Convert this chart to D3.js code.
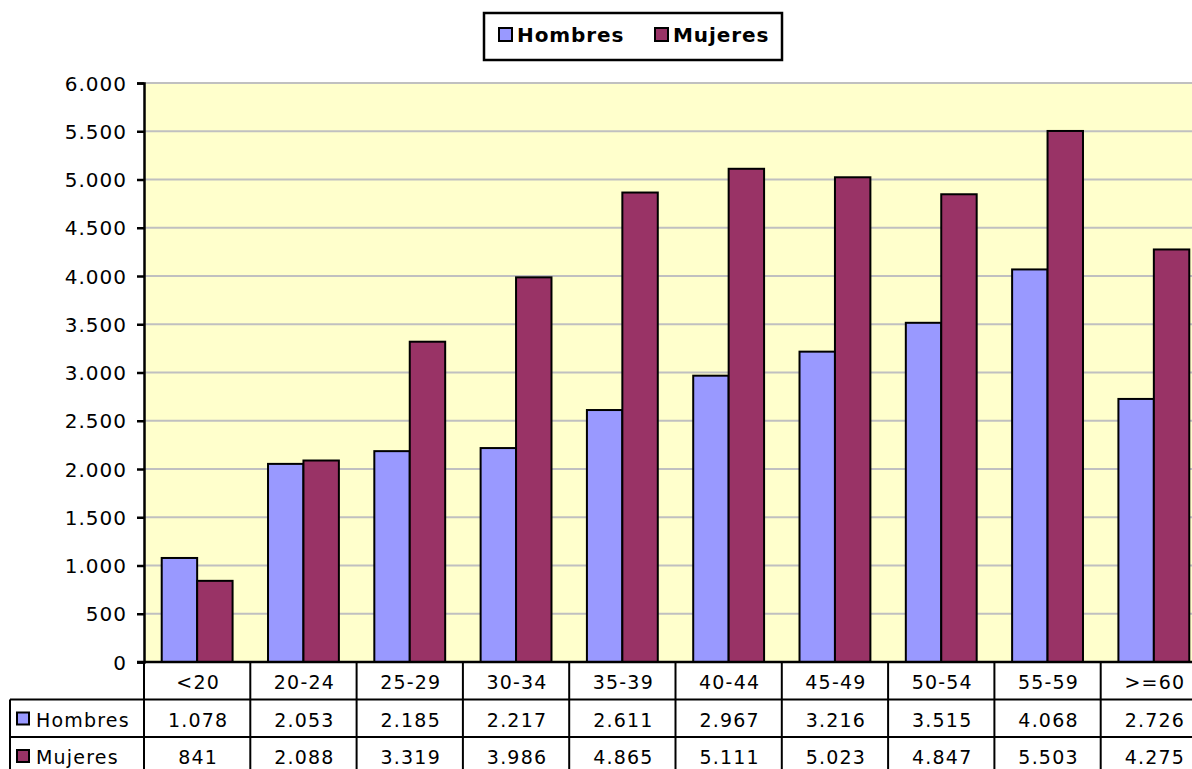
<!DOCTYPE html>
<html>
<head>
<meta charset="utf-8">
<script src="https://cdn.jsdelivr.net/npm/d3@7"></script>
<style>
  body { margin: 0; background: #fff; }
  svg text { font-family: "DejaVu Sans", Verdana, sans-serif; fill: #000; }
</style>
</head>
<body>
<div id="chart"></div>
<script>
var categories = ["<20", "20-24", "25-29", "30-34", "35-39", "40-44", "45-49", "50-54", "55-59", ">=60"];
var hombres = [1078, 2053, 2185, 2217, 2611, 2967, 3216, 3515, 4068, 2726];
var mujeres = [841, 2088, 3319, 3986, 4865, 5111, 5023, 4847, 5503, 4275];
var seriesNames = ["Hombres", "Mujeres"];
var seriesColors = ["#9999ff", "#993366"];
var yTicks = [0, 500, 1000, 1500, 2000, 2500, 3000, 3500, 4000, 4500, 5000, 5500, 6000];

var W = 1192, H = 769;
var plot = {left: 144, right: 1207, top: 83, bottom: 662};
var rowH = 37.5;

// thousands with a dot, like the original
function fmt(v) { return d3.format(",")(v).replace(/,/g, "."); }

var svg = d3.select("#chart").append("svg")
    .attr("width", W)
    .attr("height", H);

var x = d3.scaleBand()
    .domain(categories)
    .range([plot.left, plot.right]);

var bw = x.bandwidth();
var xs = d3.scaleBand()
    .domain(seriesNames)
    .range([bw / 6, bw * 5 / 6]);

var y = d3.scaleLinear()
    .domain([0, 6000])
    .range([plot.bottom, plot.top]);

// plot background
svg.append("rect")
    .attr("x", plot.left).attr("y", plot.top)
    .attr("width", plot.right - plot.left).attr("height", plot.bottom - plot.top)
    .attr("fill", "#ffffcc");

// gridlines
svg.selectAll(".grid")
    .data(yTicks.filter(function(d){ return d > 0; }))
  .enter().append("line")
    .attr("x1", plot.left).attr("x2", plot.right)
    .attr("y1", function(d){ return y(d); }).attr("y2", function(d){ return y(d); })
    .attr("stroke", "#c0c0c0").attr("stroke-width", 2);

var data = categories.map(function(c, i){
    return {cat: c, values: [hombres[i], mujeres[i]]};
});

var groups = svg.selectAll(".cat")
    .data(data)
  .enter().append("g")
    .attr("transform", function(d){ return "translate(" + x(d.cat) + ",0)"; });

groups.selectAll("rect")
    .data(function(d){ return d.values.map(function(v, j){ return {name: seriesNames[j], v: v, c: seriesColors[j]}; }); })
  .enter().append("rect")
    .attr("x", function(d){ return xs(d.name); })
    .attr("y", function(d){ return y(d.v); })
    .attr("width", xs.bandwidth())
    .attr("height", function(d){ return y(0) - y(d.v); })
    .attr("fill", function(d){ return d.c; })
    .attr("stroke", "#000").attr("stroke-width", 2);

// y axis
var yAxis = svg.append("g")
    .attr("transform", "translate(" + plot.left + ",0)")
    .call(d3.axisLeft(y).tickValues(yTicks).tickSize(7).tickPadding(8).tickFormat(fmt));
yAxis.select(".domain").attr("stroke", "#000").attr("stroke-width", 2.5);
yAxis.selectAll(".tick line").attr("stroke", "#000").attr("stroke-width", 2.5);
yAxis.selectAll(".tick text")
    .attr("font-size", 20).attr("font-family", "DejaVu Sans, Verdana, sans-serif")
    .attr("letter-spacing", "1px").attr("dx", -2).attr("dy", "0.36em");

// baseline
svg.append("line")
    .attr("x1", plot.left - 7).attr("x2", plot.right)
    .attr("y1", y(0)).attr("y2", y(0))
    .attr("stroke", "#000").attr("stroke-width", 2.5);

// data table
var table = svg.append("g").attr("stroke", "#000").attr("stroke-width", 2);
var tBottom = plot.bottom + rowH * 3 + 10;
table.append("line").attr("x1", 10).attr("x2", plot.right)
    .attr("y1", plot.bottom + rowH).attr("y2", plot.bottom + rowH);
table.append("line").attr("x1", 10).attr("x2", plot.right)
    .attr("y1", plot.bottom + rowH * 2).attr("y2", plot.bottom + rowH * 2);
table.append("line").attr("x1", 10).attr("x2", 10)
    .attr("y1", plot.bottom + rowH).attr("y2", tBottom);
table.selectAll(".vline")
    .data(categories)
  .enter().append("line")
    .attr("x1", function(d){ return x(d); }).attr("x2", function(d){ return x(d); })
    .attr("y1", plot.bottom).attr("y2", tBottom);

var cellText = svg.append("g")
    .attr("font-size", 19).attr("letter-spacing", "1.2px").attr("text-anchor", "middle");

cellText.selectAll(".catlab")
    .data(categories)
  .enter().append("text")
    .attr("x", function(d){ return x(d) + bw / 2 + 1; })
    .attr("y", plot.bottom + 27)
    .text(function(d){ return d; });

[hombres, mujeres].forEach(function(vals, j){
    cellText.selectAll(".row" + j)
        .data(vals)
      .enter().append("text")
        .attr("x", function(d, i){ return x(categories[i]) + bw / 2 + 1; })
        .attr("y", plot.bottom + rowH * (j + 1) + 27)
        .text(function(d){ return fmt(d); });

    var ry = plot.bottom + rowH * (j + 1);
    svg.append("rect")
        .attr("x", 17).attr("y", ry + 13).attr("width", 12).attr("height", 12)
        .attr("fill", seriesColors[j]).attr("stroke", "#000").attr("stroke-width", 2);
    svg.append("text")
        .attr("x", 36).attr("y", ry + 27)
        .attr("font-size", 19).attr("letter-spacing", "1.2px")
        .text(seriesNames[j]);
});

// legend
var legend = svg.append("g");
legend.append("rect")
    .attr("x", 484).attr("y", 13).attr("width", 298).attr("height", 47)
    .attr("fill", "#fff").attr("stroke", "#000").attr("stroke-width", 2.5);
var lx = [499, 655];
seriesNames.forEach(function(n, j){
    legend.append("rect")
        .attr("x", lx[j]).attr("y", 28).attr("width", 13).attr("height", 13)
        .attr("fill", seriesColors[j]).attr("stroke", "#000").attr("stroke-width", 2);
    legend.append("text")
        .attr("x", lx[j] + 18).attr("y", 42)
        .attr("font-size", 20).attr("font-weight", "bold").attr("letter-spacing", "0.9px")
        .text(n);
});
</script>
</body>
</html>
